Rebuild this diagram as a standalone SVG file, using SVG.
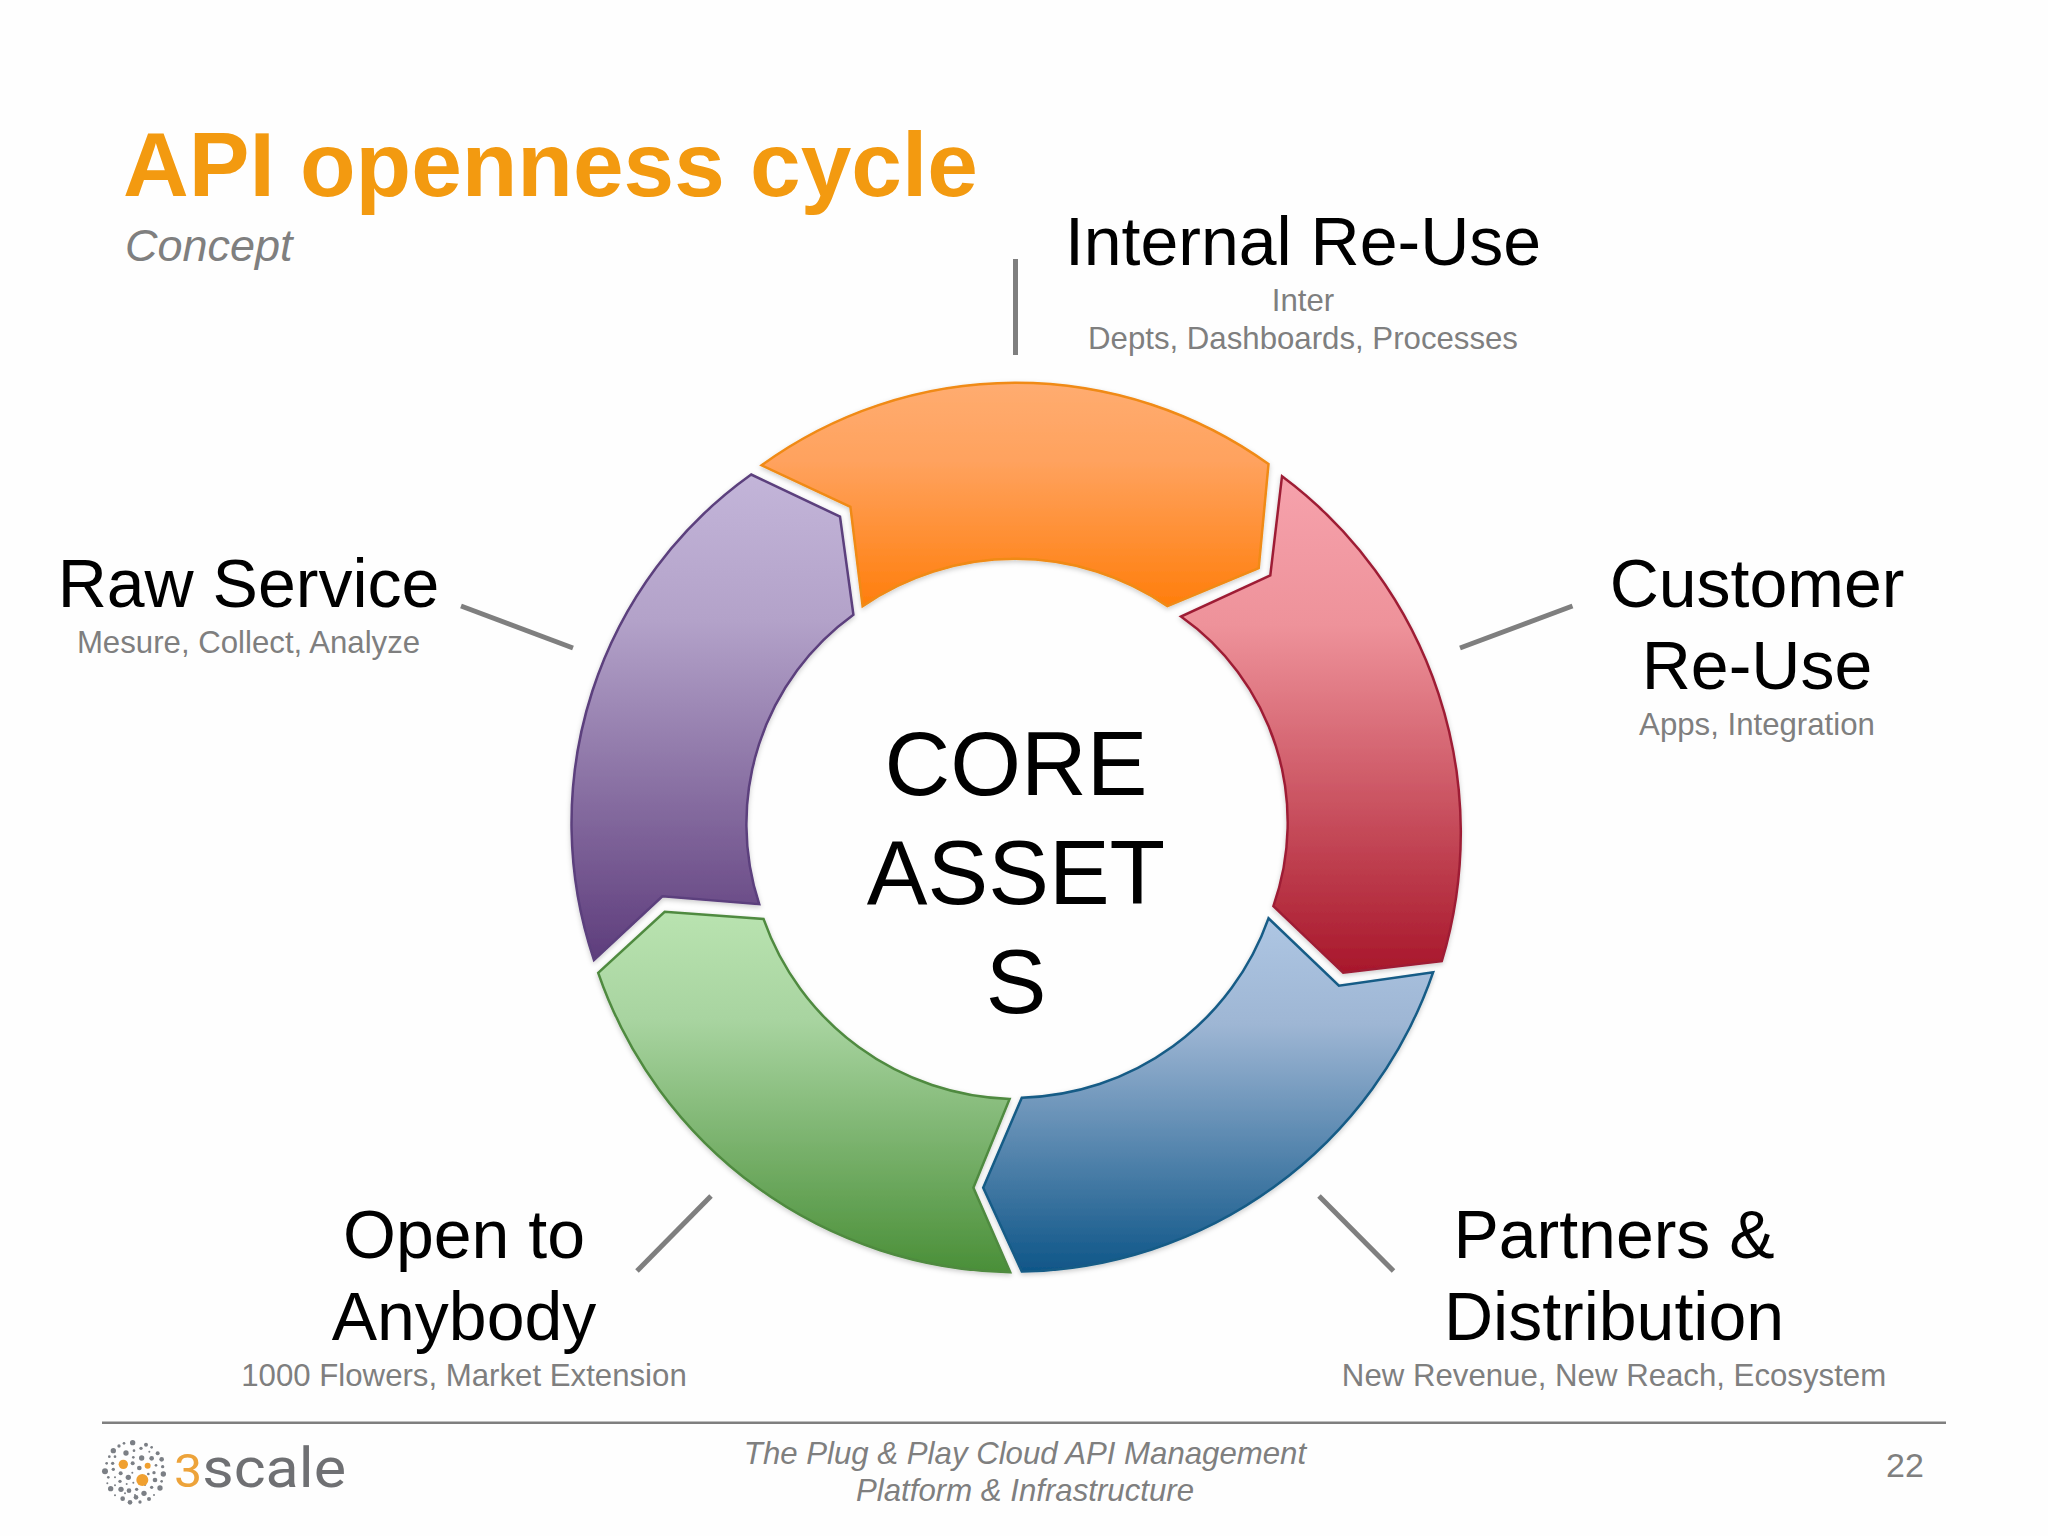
<svg xmlns="http://www.w3.org/2000/svg" width="2048" height="1536" viewBox="0 0 2048 1536">
<style>
text{font-family:"Liberation Sans",Arial,sans-serif;text-anchor:middle}
.h{font-size:68px;fill:#000}
.s{font-size:31.2px;fill:#7f7f7f}
.f{font-size:31.2px;fill:#7f7f7f;font-style:italic}
.c{font-size:91px;fill:#000}
.seg{stroke-width:2.5;stroke-linejoin:miter;filter:url(#sh)}
.conn line{stroke:#7f7f7f;stroke-width:5;fill:none}
.dots circle{fill:#7b7f85}
.dots circle.o{fill:#f0a030}
</style>
<defs>
<filter id="sh" x="-5%" y="-5%" width="110%" height="110%"><feDropShadow dx="0" dy="2" stdDeviation="2.5" flood-color="#000" flood-opacity="0.2"/></filter>
<linearGradient id="go" x1="0" y1="0" x2="0" y2="1"><stop offset="0" stop-color="#ffac70"/><stop offset="0.35" stop-color="#ffa25e"/><stop offset="1" stop-color="#ff7e0c"/></linearGradient>
<linearGradient id="gr" x1="0" y1="0" x2="0" y2="1"><stop offset="0" stop-color="#f6a2ac"/><stop offset="0.3" stop-color="#ee929a"/><stop offset="1" stop-color="#a8172b"/></linearGradient>
<linearGradient id="gb" x1="0" y1="0" x2="0" y2="1"><stop offset="0" stop-color="#aec6e3"/><stop offset="0.3" stop-color="#9eb6d4"/><stop offset="1" stop-color="#0f5688"/></linearGradient>
<linearGradient id="gg" x1="0" y1="0" x2="0" y2="1"><stop offset="0" stop-color="#b9e3b0"/><stop offset="0.3" stop-color="#a8d4a0"/><stop offset="1" stop-color="#4a8f38"/></linearGradient>
<linearGradient id="gp" x1="0" y1="0" x2="0" y2="1"><stop offset="0" stop-color="#c3b5d9"/><stop offset="0.3" stop-color="#b3a2c9"/><stop offset="1" stop-color="#5e3d7c"/></linearGradient>
</defs>
<rect width="2048" height="1536" fill="#fefefe"/>
<g id="title">
<text x="123" y="196" style="text-anchor:start;font-size:91px;font-weight:700;fill:#f39a10">API openness cycle</text>
<text x="125" y="261" style="text-anchor:start;font-size:45px;font-style:italic;fill:#7f7f7f">Concept</text>
</g>
<g id="connectors" class="conn">
<line x1="1015.5" y1="259" x2="1015.5" y2="355"/>
<line x1="461" y1="606" x2="573" y2="648"/>
<line x1="1572.5" y1="606" x2="1460" y2="648"/>
<line x1="711" y1="1196" x2="637" y2="1271"/>
<line x1="1319" y1="1196" x2="1393.5" y2="1271"/>
</g>
<g id="seg-raw"><path class="seg" fill="url(#gp)" stroke="#5b3f7d" d="M594,960 A428,428 0 0 1 751.2,474.5 L840,516.7 L853.4,614.7 A258,258 0 0 0 759.2,904.2 L662.4,896.3 Z"/></g>
<g id="seg-open"><path class="seg" fill="url(#gg)" stroke="#4f8a3f" d="M1010.2,1272.2 A444.5,444.5 0 0 1 598.2,972.8 L664.7,911.8 L763.5,918.9 A269.5,269.5 0 0 0 1009.6,1098.9 L973.4,1187.7 Z"/></g>
<g id="seg-partners"><path class="seg" fill="url(#gb)" stroke="#155b86" d="M1433.2,972.2 A444.5,444.5 0 0 1 1021.8,1271.6 L983.2,1187.7 L1021.8,1097.7 A269.5,269.5 0 0 0 1268.5,918.3 L1338.9,985.7 Z"/></g>
<g id="seg-customer"><path class="seg" fill="url(#gr)" stroke="#9e1f35" d="M1282,476.3 A444.5,444.5 0 0 1 1441.8,961.2 L1343.2,972.8 L1273.4,906.1 A252,252 0 0 0 1181,616.5 L1270.3,575.5 Z"/></g>
<g id="seg-internal"><path class="seg" fill="url(#go)" stroke="#f08a14" d="M761.6,465.3 A433,433 0 0 1 1268.5,464.1 L1258.7,568.1 L1167.5,606.1 A269.5,269.5 0 0 0 862.6,606.1 L850.4,506.9 Z"/></g>
<g id="core">
<text class="c" x="1016" y="795">CORE</text>
<text class="c" x="1016" y="904">ASSET</text>
<text class="c" x="1016" y="1013">S</text>
</g>
<g id="label-internal">
<text class="h" x="1303" y="265">Internal Re-Use</text>
<text class="s" x="1303" y="311">Inter</text>
<text class="s" x="1303" y="349">Depts, Dashboards, Processes</text>
</g>
<g id="label-raw">
<text class="h" x="248.5" y="607">Raw Service</text>
<text class="s" x="248.5" y="653">Mesure, Collect, Analyze</text>
</g>
<g id="label-customer">
<text class="h" x="1757" y="607">Customer</text>
<text class="h" x="1757" y="689">Re-Use</text>
<text class="s" x="1757" y="735">Apps, Integration</text>
</g>
<g id="label-open">
<text class="h" x="464" y="1258">Open to</text>
<text class="h" x="464" y="1340">Anybody</text>
<text class="s" x="464" y="1386">1000 Flowers, Market Extension</text>
</g>
<g id="label-partners">
<text class="h" x="1614" y="1258">Partners &amp;</text>
<text class="h" x="1614" y="1340">Distribution</text>
<text class="s" x="1614" y="1386">New Revenue, New Reach, Ecosystem</text>
</g>
<g id="footer">
<line x1="102" y1="1422.7" x2="1946" y2="1422.7" stroke="#7f7f7f" stroke-width="2.5"/>
<text class="f" x="1025" y="1464">The Plug &amp; Play Cloud API Management</text>
<text class="f" x="1025" y="1501">Platform &amp; Infrastructure</text>
<text x="1905" y="1477" style="font-size:34px;fill:#7f7f7f">22</text>
</g>
<g id="logo">
<g class="dots" transform="translate(80,1400) scale(0.3333)">
<circle cx="158" cy="128" r="8"/><circle cx="132" cy="130" r="4"/><circle cx="117" cy="138" r="5"/><circle cx="100" cy="152" r="8"/><circle cx="198" cy="134" r="6"/><circle cx="183" cy="145" r="5"/><circle cx="162" cy="152" r="4"/><circle cx="138" cy="159" r="8"/><circle cx="215" cy="142" r="4"/><circle cx="233" cy="160" r="6"/><circle cx="208" cy="155" r="3"/><circle cx="88" cy="170" r="4"/><circle cx="105" cy="170" r="4"/><circle cx="185" cy="174" r="8"/><circle cx="160" cy="172" r="4"/><circle cx="215" cy="175" r="7"/><circle cx="245" cy="178" r="7"/><circle cx="80" cy="190" r="4"/><circle cx="98" cy="190" r="5"/><circle cx="158" cy="190" r="6"/><circle cx="228" cy="196" r="4"/><circle cx="248" cy="200" r="5"/><circle cx="75" cy="214" r="9"/><circle cx="100" cy="208" r="5"/><circle cx="178" cy="204" r="7"/><circle cx="222" cy="218" r="5"/><circle cx="250" cy="222" r="8"/><circle cx="122" cy="220" r="6"/><circle cx="157" cy="218" r="3"/><circle cx="205" cy="222" r="4"/><circle cx="145" cy="232" r="8"/><circle cx="85" cy="232" r="4"/><circle cx="105" cy="232" r="3"/><circle cx="120" cy="244" r="5"/><circle cx="225" cy="240" r="7"/><circle cx="245" cy="244" r="4"/><circle cx="92" cy="266" r="8"/><circle cx="82" cy="250" r="3"/><circle cx="105" cy="256" r="3"/><circle cx="160" cy="248" r="3"/><circle cx="140" cy="252" r="3"/><circle cx="123" cy="268" r="8"/><circle cx="147" cy="272" r="7"/><circle cx="170" cy="268" r="5"/><circle cx="192" cy="280" r="8"/><circle cx="215" cy="262" r="5"/><circle cx="240" cy="264" r="8"/><circle cx="222" cy="285" r="3"/><circle cx="105" cy="286" r="3"/><circle cx="128" cy="296" r="7"/><circle cx="168" cy="292" r="7"/><circle cx="150" cy="307" r="7"/><circle cx="207" cy="297" r="6"/><circle cx="180" cy="306" r="5"/><circle cx="135" cy="280" r="3"/><circle cx="195" cy="255" r="3"/><circle cx="165" cy="285" r="3"/>
<circle class="o" cx="187" cy="240" r="18"/><circle class="o" cx="130" cy="193" r="14"/><circle class="o" cx="203" cy="197" r="9"/>
</g>
<text x="174" y="1487" textLength="172" lengthAdjust="spacingAndGlyphs" style="text-anchor:start;font-family:Roboto,'Liberation Sans',sans-serif;font-weight:400;font-size:56px;fill:#6f7073"><tspan style="fill:#eda33a;font-size:46px">3</tspan>scale</text>
</g>
</svg>
